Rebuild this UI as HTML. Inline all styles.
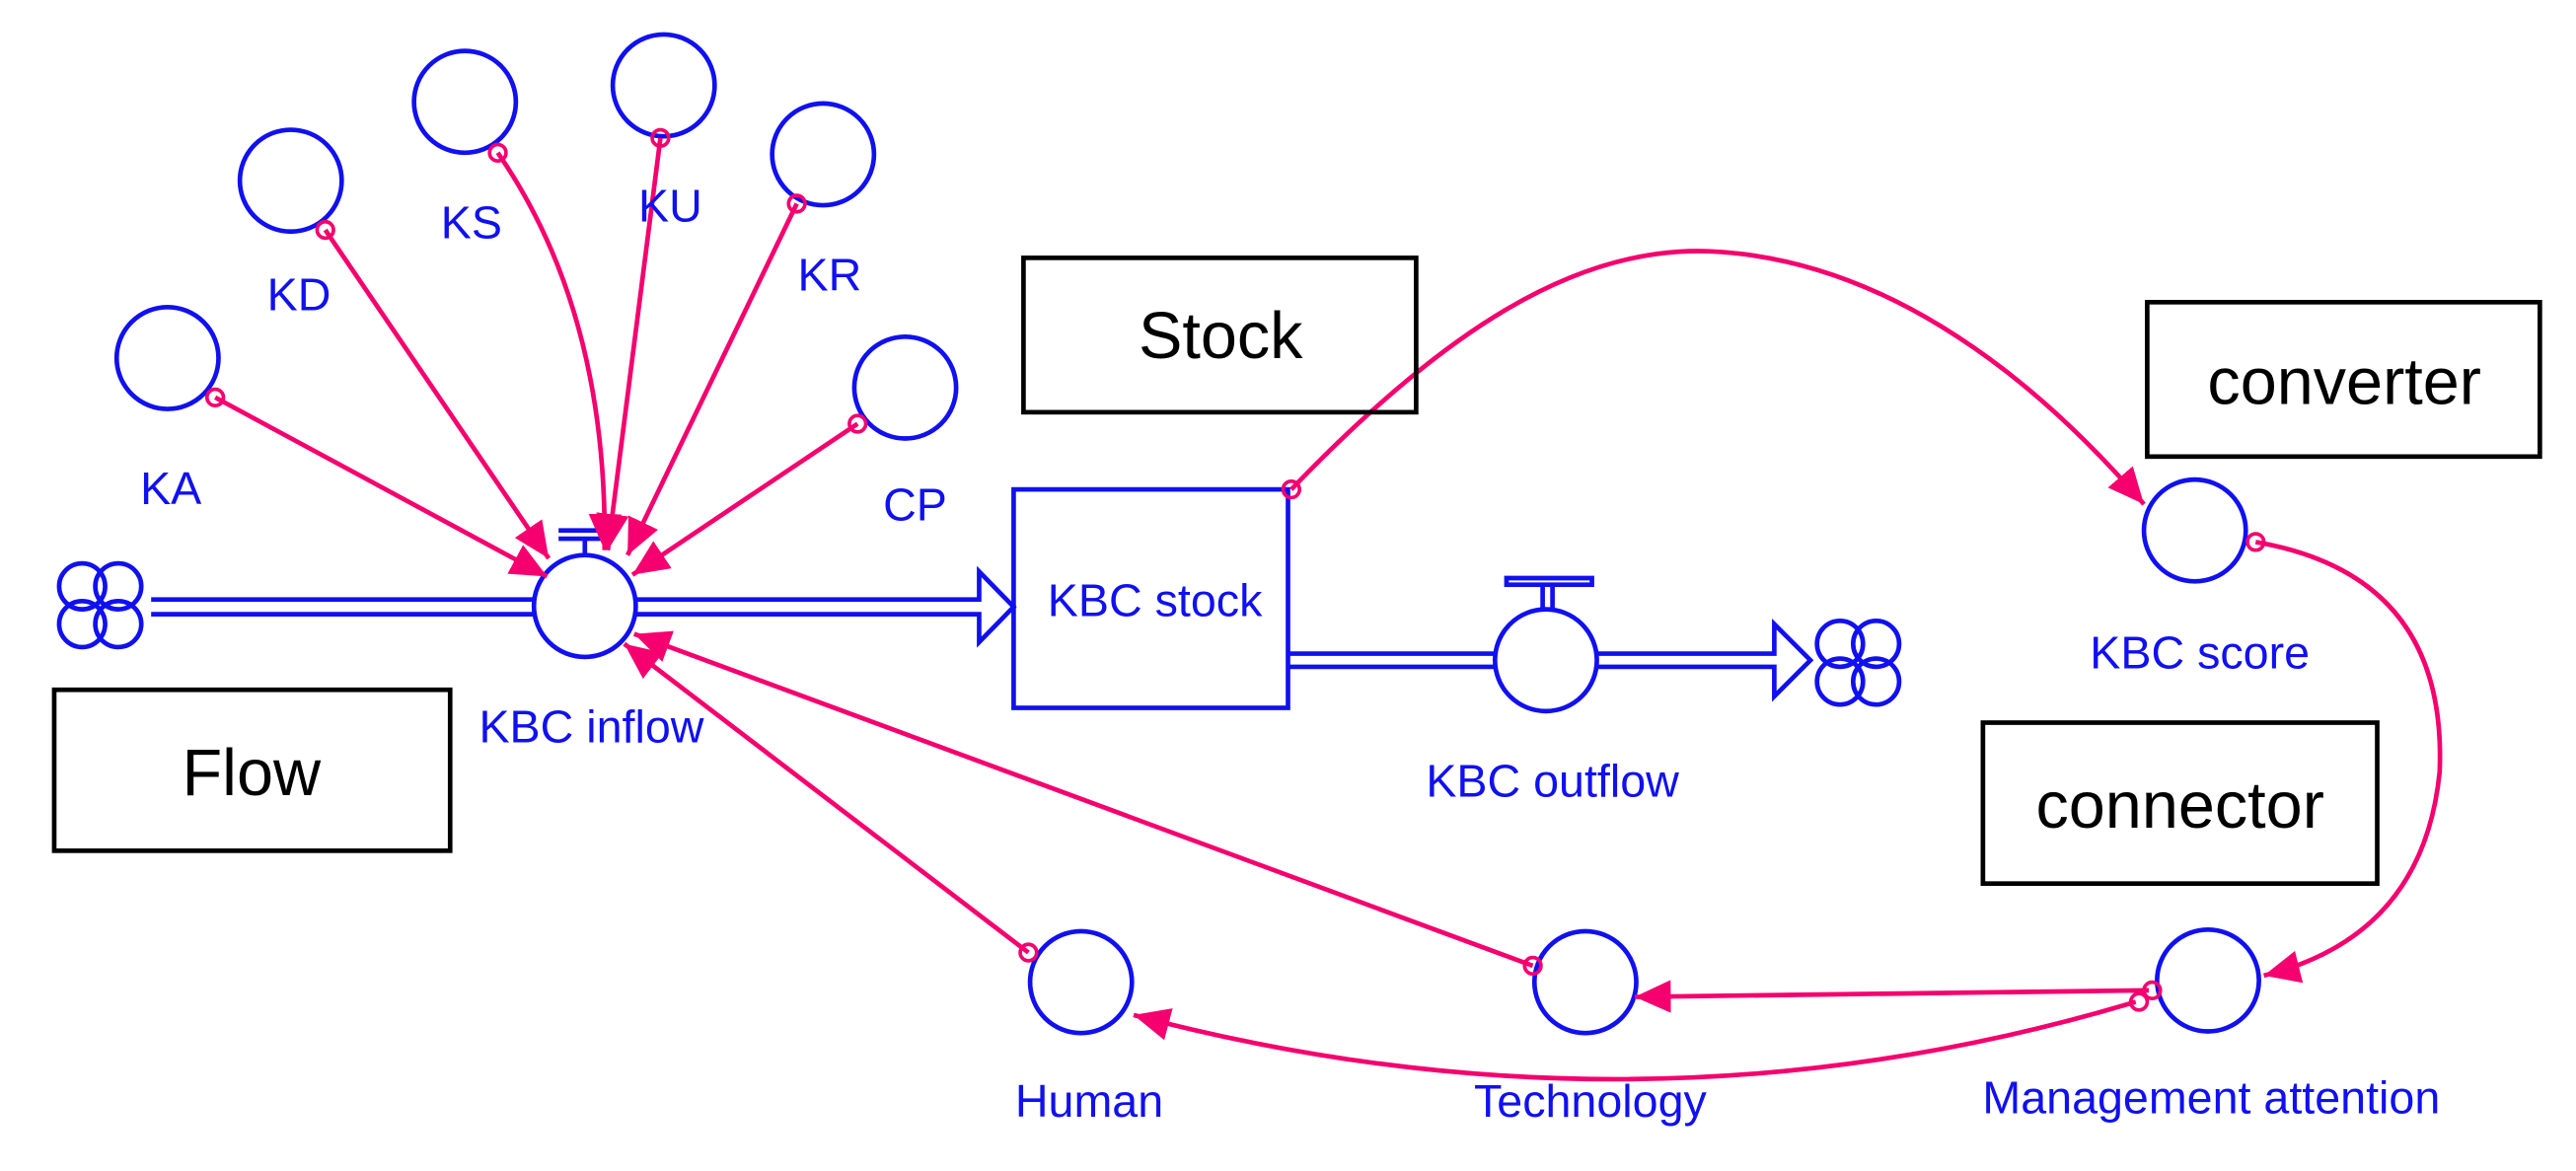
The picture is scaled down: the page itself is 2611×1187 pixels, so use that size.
<!DOCTYPE html>
<html><head><meta charset="utf-8"><style>
html,body{margin:0;padding:0;background:#fff;}
svg{display:block;}
text{font-family:"Liberation Sans",Arial,sans-serif;}
</style></head><body>
<svg width="2611" height="1187" viewBox="0 0 1568 713" preserveAspectRatio="none" xmlns="http://www.w3.org/2000/svg">
<defs>
<marker id="ar" markerUnits="userSpaceOnUse" markerWidth="24" markerHeight="20" refX="22" refY="10" orient="auto">
<path d="M0,0 L22,10 L0,20 Z" fill="#f5006e"/>
</marker>
</defs>
<g fill="none" stroke="#1010f0" stroke-width="2.8">
<circle cx="102" cy="218" r="31"/>
<circle cx="177" cy="110" r="31"/>
<circle cx="283" cy="62" r="31"/>
<circle cx="404" cy="52" r="31"/>
<circle cx="501" cy="94" r="31"/>
<circle cx="551" cy="236" r="31"/>
<circle cx="1336" cy="323" r="31"/>
<circle cx="1344" cy="597" r="31"/>
<circle cx="965" cy="598" r="31"/>
<circle cx="658" cy="598" r="31"/>
<line x1="92" y1="365" x2="326" y2="365"/>
<line x1="92" y1="374" x2="326" y2="374"/>
<circle cx="356" cy="369" r="31"/>
<path d="M340,323 L372,323 M340,328 L372,328 M356,328 L356,338"/>
<path d="M387,365 L596,365 L596,348 L617,369.5 L596,391 L596,374 L387,374"/>
<circle cx="50" cy="357" r="14"/><circle cx="72" cy="357" r="14"/>
<circle cx="50" cy="380" r="14"/><circle cx="72" cy="380" r="14"/>
<rect x="617" y="298" width="167" height="133"/>
<line x1="784" y1="398" x2="910" y2="398"/>
<line x1="784" y1="406" x2="910" y2="406"/>
<circle cx="941" cy="402" r="31"/>
<path d="M917,356 L969,356 L969,352 L917,352 Z M939,356 L939,371 M945,356 L945,371"/>
<path d="M972,398 L1080,398 L1080,380 L1102,402 L1080,424 L1080,406 L972,406"/>
<circle cx="1120" cy="392" r="14"/><circle cx="1142" cy="392" r="14"/>
<circle cx="1120" cy="415" r="14"/><circle cx="1142" cy="415" r="14"/>
</g>
<g fill="none" stroke="#f5006e" stroke-width="2.8" marker-end="url(#ar)">
<line x1="131" y1="242" x2="333" y2="351"/>
<line x1="198" y1="140" x2="334" y2="340"/>
<path d="M303,93 Q370,190 368,335"/>
<line x1="402" y1="84" x2="370" y2="335"/>
<line x1="485" y1="124" x2="382" y2="338"/>
<line x1="522" y1="258" x2="385" y2="350"/>
<path d="M786,298 C880,200 960,150 1040,153 C1140,157 1230,220 1305,307"/>
<path d="M1373,330 Q1490,350 1485,470 Q1475,570 1378,594"/>
<line x1="1308" y1="603" x2="995" y2="607"/>
<path d="M1300,610 Q1000,700 690,618"/>
<line x1="933" y1="588" x2="386" y2="386"/>
<line x1="626" y1="580" x2="380" y2="392"/>
</g>
<g fill="none" stroke="#f5006e" stroke-width="2.2">
<circle cx="131" cy="242" r="5"/><circle cx="198" cy="140" r="5"/>
<circle cx="303" cy="93" r="5"/><circle cx="402" cy="84" r="5"/>
<circle cx="485" cy="124" r="5"/><circle cx="522" cy="258" r="5"/>
<circle cx="786" cy="298" r="5"/><circle cx="1373" cy="330" r="5"/>
<circle cx="1310" cy="603" r="5"/><circle cx="1302" cy="610" r="5"/>
<circle cx="933" cy="588" r="5"/><circle cx="626" cy="580" r="5"/>
</g>
<g fill="#1010f0" font-size="28" text-anchor="middle">
<text x="104" y="307">KA</text>
<text x="182" y="189">KD</text>
<text x="287" y="145">KS</text>
<text x="408" y="135">KU</text>
<text x="505" y="177">KR</text>
<text x="557" y="317">CP</text>
<text x="360" y="452">KBC inflow</text>
<text x="703" y="375">KBC stock</text>
<text x="945" y="485">KBC outflow</text>
<text x="1339" y="407">KBC score</text>
<text x="1346" y="678">Management attention</text>
<text x="968" y="680">Technology</text>
<text x="663" y="680">Human</text>
</g>
<g fill="none" stroke="#000" stroke-width="2.8">
<rect x="623" y="157" width="239" height="94"/>
<rect x="1307" y="184" width="239" height="94"/>
<rect x="1207" y="440" width="240" height="98"/>
<rect x="33" y="420" width="241" height="98"/>
</g>
<g fill="#000" font-size="40" text-anchor="middle">
<text x="743" y="218">Stock</text>
<text x="1427" y="246">converter</text>
<text x="1327" y="504">connector</text>
<text x="153" y="484">Flow</text>
</g>
</svg>
</body></html>
